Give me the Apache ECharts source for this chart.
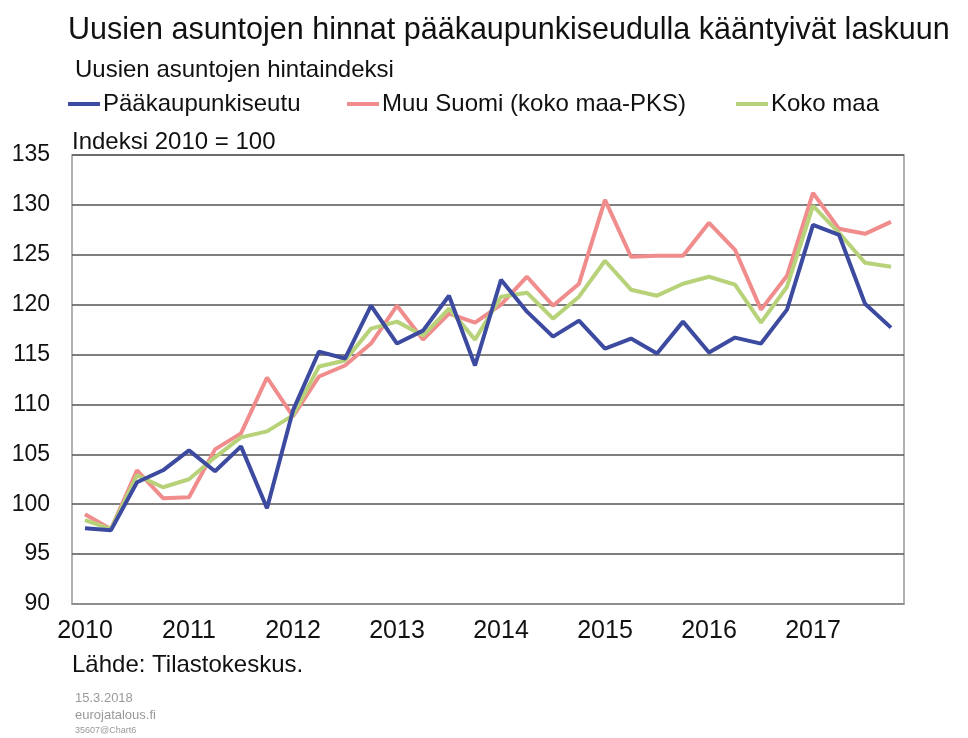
<!DOCTYPE html>
<html>
<head>
<meta charset="utf-8">
<script src="https://cdn.jsdelivr.net/npm/echarts@6/dist/echarts.min.js"></script>
<style>
  html, body { margin: 0; padding: 0; background: #fff; }
  #main { width: 968px; height: 738px; }
</style>
</head>
<body>
<div id="main"></div>
<script>
// quarters 2010Q1 .. 2017Q4
var years = ['2010', '2011', '2012', '2013', '2014', '2015', '2016', '2017'];
var quarters = [];
years.forEach(function (y) {
  for (var q = 1; q <= 4; q++) quarters.push(y + 'Q' + q);
});

var pks = [97.6, 97.4, 102.2, 103.4, 105.4, 103.3, 105.8, 99.6,
  109.4, 115.3, 114.6, 119.9, 116.1, 117.4, 120.9, 113.9,
  122.5, 119.3, 116.8, 118.4, 115.6, 116.6, 115.1, 118.3,
  115.2, 116.7, 116.1, 119.5, 128.0, 127.0, 120.1, 117.7];
var muuSuomi = [99.0, 97.5, 103.4, 100.6, 100.7, 105.5, 107.1, 112.7,
  108.8, 112.8, 113.9, 116.1, 119.9, 116.5, 119.1, 118.2,
  120.0, 122.8, 119.9, 122.1, 130.5, 124.8, 124.9, 124.9,
  128.2, 125.5, 119.5, 122.9, 131.2, 127.6, 127.1, 128.3];
var kokoMaa = [98.4, 97.5, 102.9, 101.7, 102.5, 104.7, 106.7, 107.3,
  108.9, 113.8, 114.4, 117.6, 118.3, 116.9, 119.6, 116.5,
  120.8, 121.2, 118.6, 120.8, 124.4, 121.5, 120.9, 122.1,
  122.8, 122.0, 118.2, 121.8, 129.9, 127.2, 124.2, 123.8];

var names = ['Pääkaupunkiseutu', 'Muu Suomi (koko maa-PKS)', 'Koko maa'];
var font = '"Liberation Sans", Arial, sans-serif';

function legendAt(x, name) {
  return {
    left: x,
    top: 92,
    padding: 0,
    icon: 'rect',
    itemWidth: 32,
    itemHeight: 4,
    textStyle: { fontSize: 24, color: '#111', padding: [0, 0, 0, -2] },
    data: [name]
  };
}

var chart = echarts.init(document.getElementById('main'));
var option = {
  animation: false,
  backgroundColor: '#fff',
  color: ['#3c4aa0', '#f08c8c', '#b8d27a'],
  textStyle: { fontFamily: font },
  title: {
    text: 'Uusien asuntojen hinnat pääkaupunkiseudulla kääntyivät laskuun',
    left: 63,
    top: 10,
    textStyle: { fontSize: 30.5, fontWeight: 'normal', color: '#111', fontFamily: font }
  },
  legend: [legendAt(68, names[0]), legendAt(347, names[1]), legendAt(736, names[2])],
  graphic: [
    { type: 'text', left: 75, top: 58, style: { text: 'Uusien asuntojen hintaindeksi', font: '24px ' + font, fill: '#111' } },
    { type: 'text', left: 72, top: 130, style: { text: 'Indeksi 2010 = 100', font: '24px ' + font, fill: '#111' } },
    { type: 'text', left: 72, top: 653, style: { text: 'Lähde: Tilastokeskus.', font: '24px ' + font, fill: '#111' } },
    { type: 'text', left: 75, top: 692, style: { text: '15.3.2018', font: '13px ' + font, fill: '#999' } },
    { type: 'text', left: 75, top: 709, style: { text: 'eurojatalous.fi', font: '13px ' + font, fill: '#999' } },
    { type: 'text', left: 75, top: 726, style: { text: '35607@Chart6', font: '9px ' + font, fill: '#999' } }
  ],
  grid: { left: 72, right: 64, top: 155, bottom: 134, show: true, borderColor: '#999', borderWidth: 1.5 },
  xAxis: {
    type: 'category',
    data: quarters,
    boundaryGap: true,
    axisLine: { lineStyle: { color: '#999', width: 1.5 } },
    axisTick: { inside: true, length: 7, lineStyle: { color: '#777' } },
    axisLabel: {
      interval: 3,
      fontSize: 25,
      color: '#111',
      margin: 15,
      formatter: function (v) { return v.slice(0, 4); }
    },
    splitLine: { show: false }
  },
  yAxis: {
    type: 'value',
    min: 90,
    max: 135,
    interval: 5,
    axisLine: { show: false },
    axisTick: { show: false },
    axisLabel: { fontSize: 23, color: '#111', margin: 22 },
    splitLine: { lineStyle: { color: '#555', width: 1.5 } }
  },
  series: [
    { name: names[0], type: 'line', data: pks, symbol: 'none', lineStyle: { width: 4 }, z: 4 },
    { name: names[1], type: 'line', data: muuSuomi, symbol: 'none', lineStyle: { width: 4 }, z: 2 },
    { name: names[2], type: 'line', data: kokoMaa, symbol: 'none', lineStyle: { width: 4 }, z: 3 }
  ]
};
chart.setOption(option);
</script>
</body>
</html>
